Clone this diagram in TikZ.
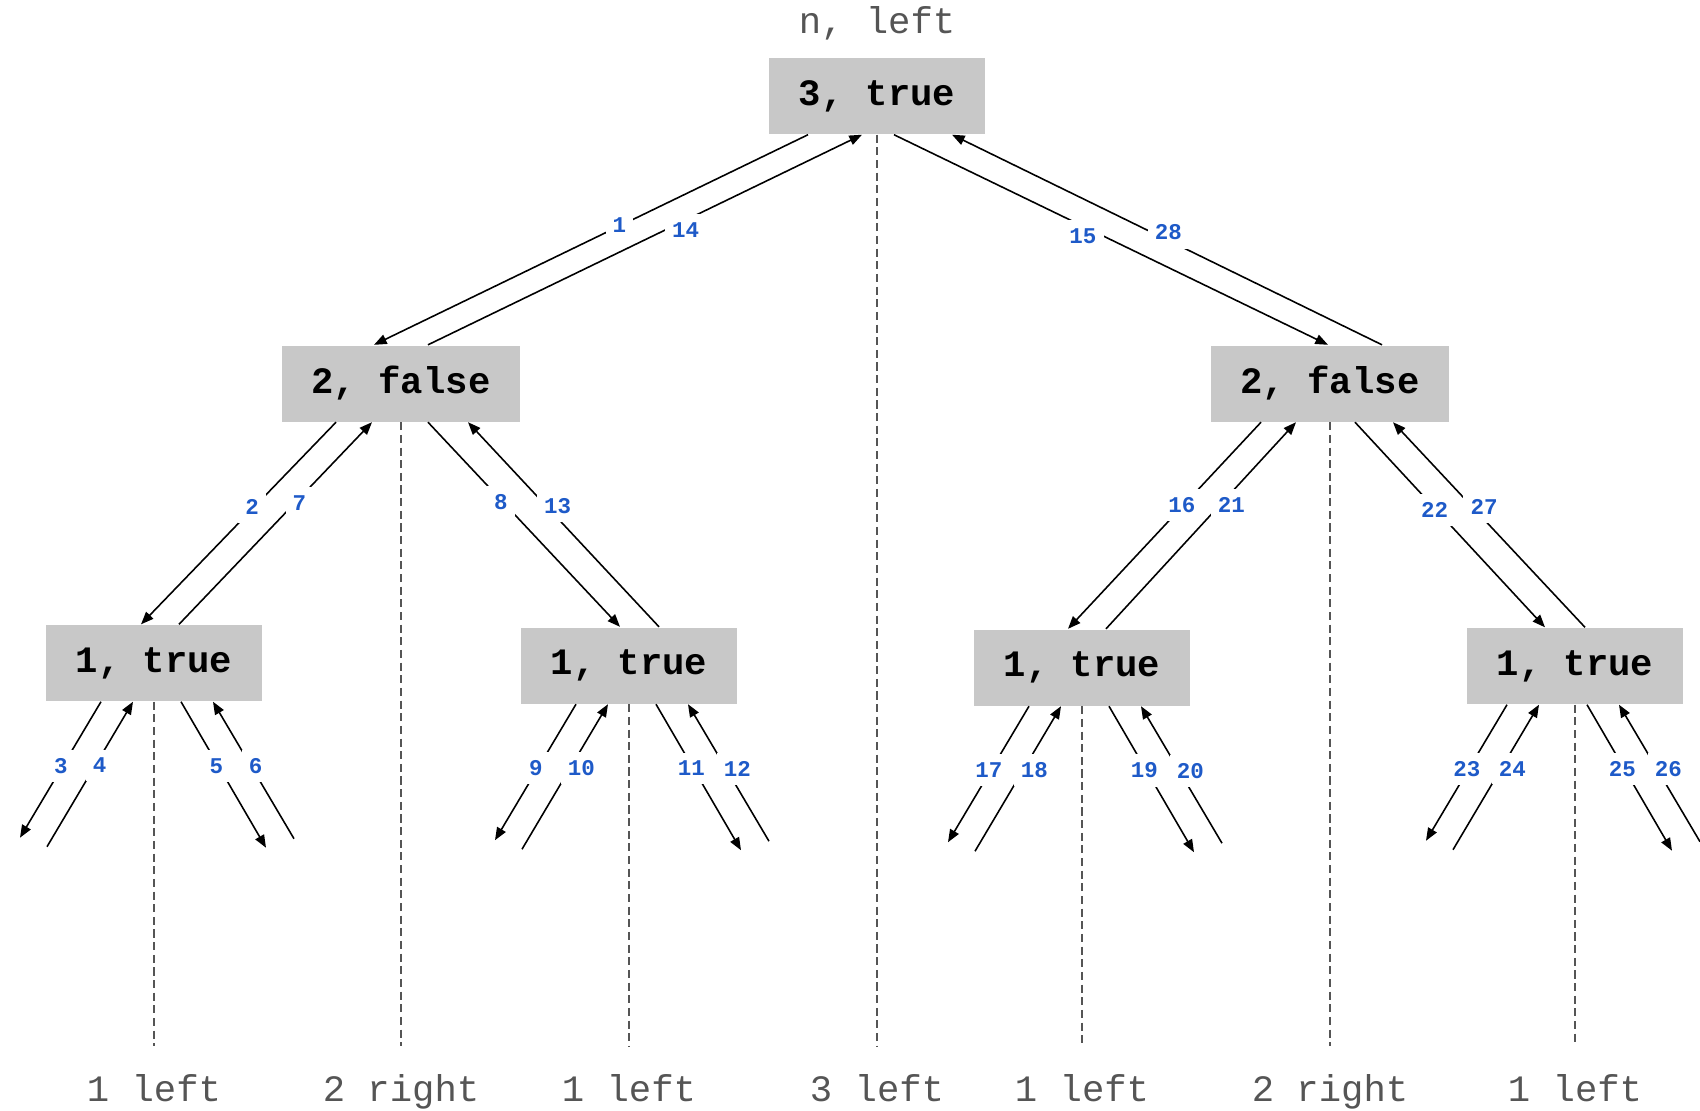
\documentclass[tikz,border=0pt]{standalone}
\usepackage{fontspec}
\setmonofont{Liberation Mono}
\usepackage{xcolor}
\usepackage{tikz}
\usetikzlibrary{arrows.meta}
\definecolor{boxgray}{HTML}{C8C8C8}
\definecolor{numblue}{HTML}{1E5AC8}
\definecolor{txtgray}{HTML}{555555}
\begin{document}
\begin{tikzpicture}[
    >={Triangle[length=3.6pt,width=2.8pt]},
    state/.style={fill=boxgray, minimum height=0.76cm, inner xsep=0.3cm, font=\fontsize{10.6}{12}\selectfont\ttfamily\bfseries},
    call/.style={->, line width=0.45pt},
    num/.style={fill=white, inner xsep=2pt, inner ysep=2.4pt, text=numblue, font=\fontsize{6.4}{7}\selectfont\ttfamily\bfseries},
    numa/.style={num, xshift=-0.02cm},
    numb/.style={num, anchor=west, xshift=-0.1cm},
    divider/.style={draw=txtgray, line width=0.4pt, dash pattern=on 2.3pt off 1.3pt, shorten >=0.18cm},
    caption/.style={text=txtgray, text height=0.7em, font=\fontsize{10.6}{12}\selectfont\ttfamily},
]
\useasboundingbox (0,0) rectangle (17,-11.1);

% States
\node[caption] (head) at (8.77,-0.24) {n, left};
\node[state] (n3) at (8.77,-0.96) {3, true};
\node[state] (n2l) at (4.01,-3.835) {2, false};
\node[state] (n2r) at (13.30,-3.835) {2, false};
\node[state] (n1a) at (1.54,-6.63) {1, true};
\node[state] (n1b) at (6.29,-6.655) {1, true};
\node[state] (n1c) at (10.82,-6.675) {1, true};
\node[state] (n1d) at (15.75,-6.66) {1, true};

% Results
\node[caption, anchor=north] (r1) at (1.54,-10.64) {1 left};
\node[caption, anchor=north] (r2) at (4.01,-10.64) {2 right};
\node[caption, anchor=north] (r3) at (6.29,-10.64) {1 left};
\node[caption, anchor=north] (r4) at (8.77,-10.64) {3 left};
\node[caption, anchor=north] (r5) at (10.82,-10.64) {1 left};
\node[caption, anchor=north] (r6) at (13.30,-10.64) {2 right};
\node[caption, anchor=north] (r7) at (15.75,-10.64) {1 left};

\draw[divider] (n3.south) -- (r4.north);
\draw[divider] (n2l.south) -- (r2.north);
\draw[divider] (n2r.south) -- (r6.north);
\draw[divider] (n1a.south) -- (r1.north);
\draw[divider] (n1b.south) -- (r3.north);
\draw[divider] (n1c.south) -- (r5.north);
\draw[divider] (n1d.south) -- (r7.north);

% Calls and returns
\draw[call] ([xshift=-0.69cm]n3.south) -- node[numa,pos=0.43]{1} ([xshift=-0.27cm]n2l.north);
\draw[call] ([xshift=0.27cm]n2l.north) -- node[num,pos=0.58,xshift=0.06cm,yshift=-0.07cm]{14} ([xshift=-0.15cm]n3.south);
\draw[call] ([xshift=0.17cm]n3.south) -- node[numa,pos=0.44,yshift=-0.09cm]{15} ([xshift=-0.02cm]n2r.north);
\draw[call] ([xshift=0.52cm]n2r.north) -- node[num,pos=0.52,xshift=0.1cm,yshift=0.03cm]{28} ([xshift=0.75cm]n3.south);

\draw[call] ([xshift=-0.65cm]n2l.south) -- node[numa,pos=0.42]{2} ([xshift=-0.13cm]n1a.north);
\draw[call] ([xshift=0.25cm]n1a.north) -- node[numb,pos=0.6]{7} ([xshift=-0.29cm]n2l.south);
\draw[call] ([xshift=0.27cm]n2l.south) -- node[numa,pos=0.39]{8} ([xshift=-0.09cm]n1b.north);
\draw[call] ([xshift=0.30cm]n1b.north) -- node[numb,pos=0.59]{13} ([xshift=0.67cm]n2l.south);

\draw[call] ([xshift=-0.69cm]n2r.south) -- node[numa,pos=0.4]{16} ([xshift=-0.14cm]n1c.north);
\draw[call] ([xshift=0.24cm]n1c.north) -- node[numb,pos=0.6]{21} ([xshift=-0.34cm]n2r.south);
\draw[call] ([xshift=0.25cm]n2r.south) -- node[numa,pos=0.43]{22} ([xshift=-0.30cm]n1d.north);
\draw[call] ([xshift=0.10cm]n1d.north) -- node[numb,pos=0.585]{27} ([xshift=0.63cm]n2r.south);

% Leaves
\foreach \n/\s/\a/\b/\c/\d in {n1a/0/3/4/5/6, n1b/0/9/10/11/12, n1c/0/17/18/19/20, n1d/-0.15/23/24/25/26} {
  \coordinate (\n-ll) at ([shift={(\s-1.34,-1.36)}]\n.south);
  \coordinate (\n-lr) at ([shift={(\s-1.07,-1.45)}]\n.south);
  \coordinate (\n-rl) at ([shift={(\s+1.12,-1.46)}]\n.south);
  \coordinate (\n-rr) at ([shift={(\s+1.40,-1.37)}]\n.south);
  \draw[call] ([shift={(\s-0.53,0)}]\n.south) -- node[numa,pos=0.47]{\a} (\n-ll);
  \draw[call] (\n-lr) -- node[numb,pos=0.56]{\b} ([shift={(\s-0.21,0)}]\n.south);
  \draw[call] ([shift={(\s+0.27,0)}]\n.south) -- node[numa,pos=0.44]{\c} (\n-rl);
  \draw[call] (\n-rr) -- node[numb,pos=0.53]{\d} ([shift={(\s+0.59,0)}]\n.south);
}
\end{tikzpicture}
\end{document}
